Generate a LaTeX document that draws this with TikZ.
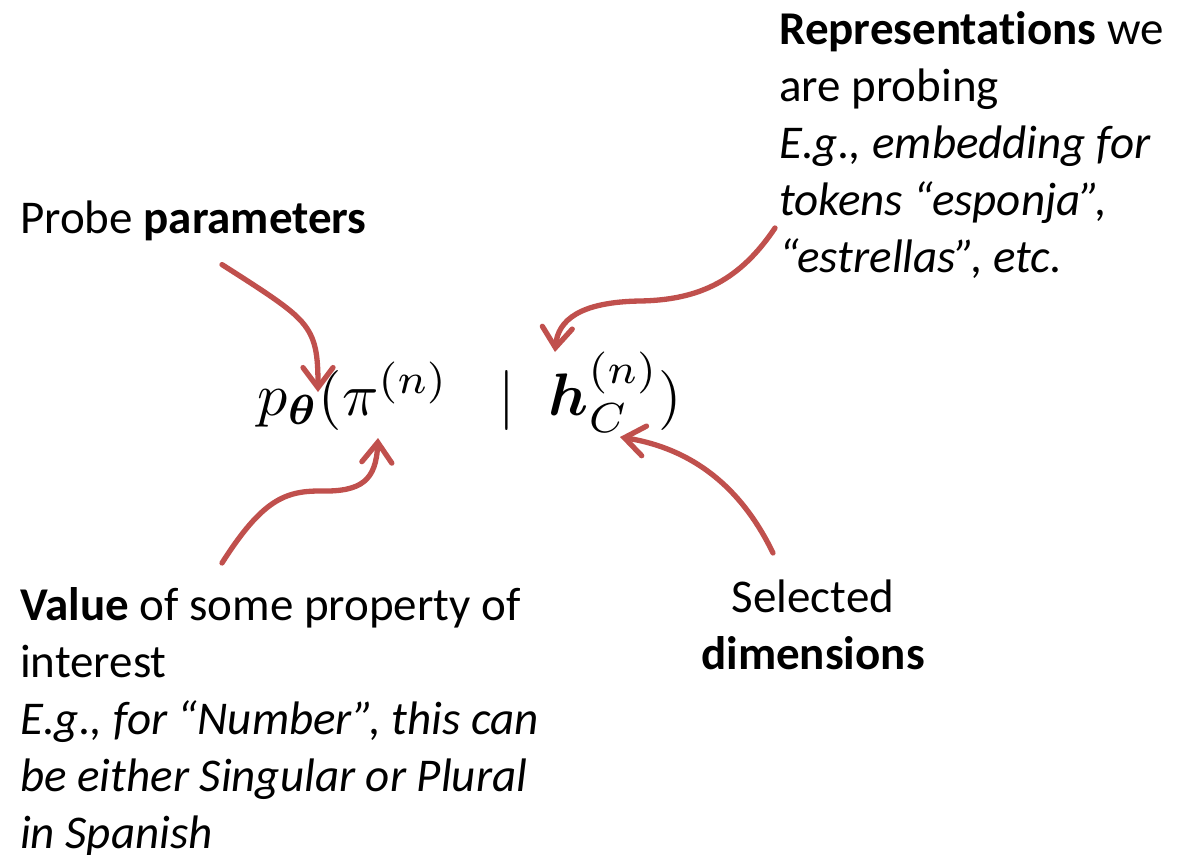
\documentclass[tikz,border=0pt]{standalone}
\usepackage{amsmath}
\usepackage{graphicx}
\usepackage[no-math]{fontspec}
\setmainfont[Ligatures=NoCommon]{Carlito}
\usetikzlibrary{arrows.meta}
\definecolor{arrowred}{HTML}{C0504D}
\tikzset{
  callout/.style={font=\fontsize{47}{57}\selectfont,inner sep=0pt},
  pointer/.style={draw=arrowred,line width=5.3pt,line cap=round,line join=round,
    -{Straight Barb[length=20pt,width=30pt,line cap=round]}},
}

\begin{document}
\begin{tikzpicture}[x=1pt,y=-1pt,line cap=round,line join=round]
  \useasboundingbox (0,0) rectangle (1199,854);

  \node[anchor=base,inner sep=0pt] (eq) at (470,415)
    {\scalebox{6}{$p_{\boldsymbol{\theta}}(\pi^{(n)}\;\;\mid\;\boldsymbol{h}_C^{(n)})$}};
  \coordinate (thetatip) at (318,392);
  \coordinate (pitip) at (378,438);
  \coordinate (htip) at (555,352);
  \coordinate (ctip) at (620,437);

  \node[callout,anchor=base west] (probe) at (20,233) {Probe \textbf{parameters}};
  \node[callout,align=left,anchor=north west] (repr) at (779,4)
    {\strut\textbf{Representations} we\\are probing\\\textit{E.g., embedding for}\\
     \textit{tokens “esponja”,}\\\textit{“estrellas”, etc.}};
  \node[callout,align=left,anchor=north west] (value) at (20,580)
    {\strut\textbf{Value} of some property of\\interest\\\textit{E.g., for “Number”, this can}\\
     \textit{be either Singular or Plural}\\\textit{in Spanish}};
  \node[callout,align=center,anchor=north] (dims) at (813,572)
    {\strut Selected\\\textbf{dimensions}};

  \draw[pointer] ([shift={(202,24)}]probe.south west)
    .. controls (265,292) and (290,308) .. (302,322)
    .. controls (316,338) and (318,355) .. (thetatip);
  \draw[pointer] ([shift={(-4,224)}]repr.north west)
    .. controls (740,280) and (700,300) .. (640,301)
    .. controls (580,302) and (558,320) .. (htip);
  \draw[pointer] ([shift={(202,-17)}]value.north west)
    .. controls (262,500) and (285,491) .. (320,491)
    .. controls (362,492) and (376,480) .. (pitip);
  \draw[pointer] ([shift={(-40,-19)}]dims.north)
    .. controls (745,495) and (700,450) .. (ctip);
\end{tikzpicture}
\end{document}
